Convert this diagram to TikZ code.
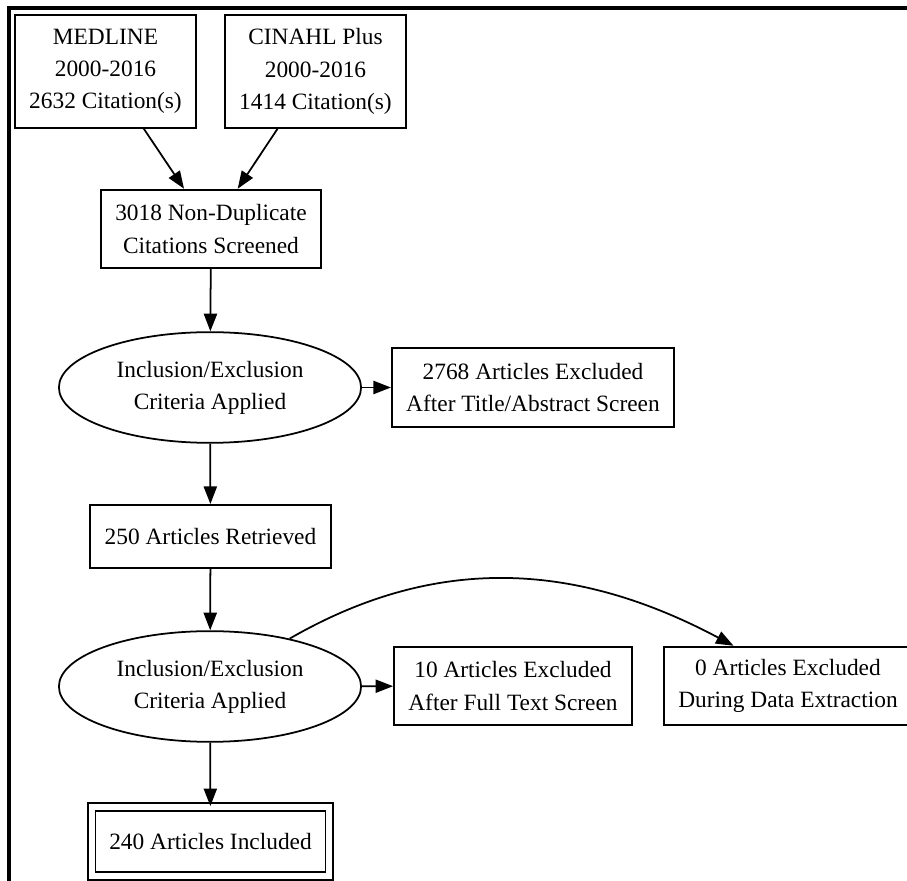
\documentclass[tikz,border=0pt]{standalone}
\usepackage{fontspec}
\setmainfont{Liberation Serif}
\usetikzlibrary{arrows.meta,shapes.geometric}

\begin{document}
\begin{tikzpicture}[x=0.02cm,y=-0.02cm,
  every node/.style={font=\fontsize{13.3}{18.3}\selectfont,align=center},
  box/.style={draw,rectangle,line width=1pt,inner xsep=8.2pt,inner ysep=0pt},
  oval/.style={draw,ellipse,line width=1pt,minimum width=172pt,minimum height=63pt,inner sep=0pt},
  flow/.style={line width=1pt,-{Triangle[length=10pt,width=7.5pt]}}]
  \useasboundingbox (0,0) rectangle (907,881);
  \clip (0,0) rectangle (907,881);
  \draw[line width=2pt] (9,881) -- (9,8) -- (907,8);
  % sources
  \node[box,minimum height=64pt] (medline) at (105.5,71.5) {MEDLINE\\2000-2016\\2632 Citation(s)};
  \node[box,minimum height=64pt] (cinahl) at (315.5,71.5) {CINAHL Plus\\2000-2016\\1414 Citation(s)};
  \node[box,minimum height=44.8pt] (dedup) at (211,229) {3018 Non-Duplicate\\Citations Screened};
  % first screen
  \node[oval] (crit1) at (210,387.5) {Inclusion/Exclusion\\Criteria Applied};
  \node[box,minimum height=44.8pt] (excl1) at (533,387.5) {2768 Articles Excluded\\After Title/Abstract Screen};
  \node[box,minimum height=36pt] (retr) at (210.5,536.5) {250 Articles Retrieved};
  % second screen
  \node[oval] (crit2) at (210,686.5) {Inclusion/Exclusion\\Criteria Applied};
  \node[box,minimum height=44.8pt] (excl2) at (513,686) {10 Articles Excluded\\After Full Text Screen};
  \node[box,minimum height=44.8pt] (excl3) at (788,686) {0 Articles Excluded\\During Data Extraction};
  \node[box,double,double distance=3.4pt,minimum width=135.3pt,minimum height=39.3pt] (incl) at (210.5,841.5) {240 Articles Included};
  % arrows
  \draw[flow] (medline) -- (dedup);
  \draw[flow] (cinahl) -- (dedup);
  \foreach \a/\b in {dedup/crit1,crit1/retr,retr/crit2,crit2/incl,crit1/excl1,crit2/excl2}
    \draw[flow] (\a) -- (\b);
  \draw[flow] (crit2.31) to[out=30,in=152] ([xshift=-31pt]excl3.north);
\end{tikzpicture}
\end{document}
